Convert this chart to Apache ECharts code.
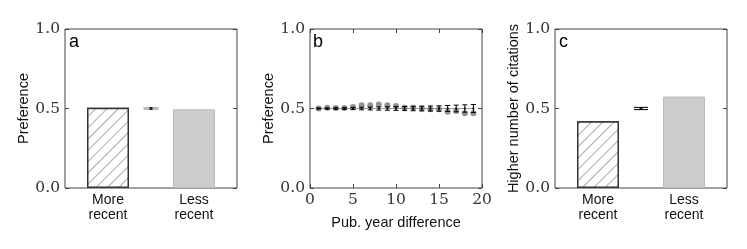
<!DOCTYPE html>
<html><head><meta charset="utf-8">
<script src="https://cdn.jsdelivr.net/npm/echarts@6/dist/echarts.min.js"></script>
<style>html,body{margin:0;padding:0;background:#fff}#c{width:747px;height:249px}</style>
</head><body><div id="c"></div>
<script>
// ---- data ----
const categories = ['More\nrecent', 'Less\nrecent'];
const prefA = [0.505, 0.495];           // panel a bar values
const nullA = [0.5, 0.49, 0.51];        // panel a null model: mean, low, high
const yearDiff = [1,2,3,4,5,6,7,8,9,10,11,12,13,14,15,16,17,18,19];
const prefB = [0.50,0.505,0.503,0.503,0.51,0.52,0.52,0.525,0.52,0.515,0.505,0.505,0.50,0.495,0.495,0.48,0.485,0.47,0.47];
const nullErrB = [0.003,0.004,0.005,0.005,0.007,0.008,0.009,0.010,0.011,0.012,0.013,0.014,0.015,0.016,0.017,0.019,0.021,0.023,0.025];
const nullLineB = [[1,0.5],[19,0.5]];
const citeC = [0.42, 0.575];            // panel c bar values
const nullC = [0.5, 0.493, 0.507];

const chart = echarts.init(document.getElementById('c'));
const serif = 'DejaVu Serif';
const sans = 'Liberation Sans';
const lefts = [65, 310, 555];
const grids = lefts.map(l => ({left: l, top: 29, width: 172, height: 159, show: true, borderColor: '#444', borderWidth: 1, backgroundColor: 'transparent'}));

function yAx(i, title, right) {
  return {
    type: 'value', gridIndex: i, min: 0, max: 1, interval: 0.5,
    position: right ? 'right' : 'left',
    name: right ? '' : title, nameLocation: 'middle', nameGap: 31,
    nameTextStyle: {fontFamily: sans, fontSize: 14.5, color: '#111'},
    axisLine: {show: false, onZero: false}, splitLine: {show: false},
    axisTick: {show: true, inside: true, length: 4, lineStyle: {color: '#444'}},
    axisLabel: {show: !right, fontFamily: serif, fontSize: 15.5, color: '#333', margin: 5, formatter: v => v.toFixed(1)}
  };
}
function catX(i) {
  return {
    type: 'value', gridIndex: i, min: -0.5, max: 1.5, interval: 0.5,
    axisLine: {show: false, onZero: false}, splitLine: {show: false},
    axisTick: {show: true, inside: true, length: 3, customValues: [0, 1], lineStyle: {color: '#444'}},
    axisLabel: {show: true, customValues: [0, 1], fontFamily: sans, fontSize: 14, color: '#111', lineHeight: 15, margin: 5,
      formatter: v => categories[Math.round(v)]}
  };
}
const hatch = {color: '#fff', borderColor: '#333', borderWidth: 1.5,
  decal: {symbol: 'rect', symbolSize: 1, dashArrayX: [[1, 0]], dashArrayY: [1, 7], rotation: -Math.PI / 4, color: '#aaa', backgroundColor: '#fff'}};
const solid = {color: '#cccccc', borderColor: '#bbb', borderWidth: 1};

function barData(vals) {
  return vals.map((v, k) => ({value: [k, v], itemStyle: k === 0 ? hatch : solid}));
}
function errRender(capW, color) {
  return function (params, api) {
    const x = api.value(0), lo = api.value(1), hi = api.value(2);
    const a = api.coord([x, lo]), b = api.coord([x, hi]);
    const st = {stroke: color, lineWidth: 1};
    return {type: 'group', children: [
      {type: 'line', shape: {x1: a[0], y1: a[1], x2: b[0], y2: b[1]}, style: st},
      {type: 'line', shape: {x1: a[0] - capW / 2, y1: a[1], x2: a[0] + capW / 2, y2: a[1]}, style: st},
      {type: 'line', shape: {x1: b[0] - capW / 2, y1: b[1], x2: b[0] + capW / 2, y2: b[1]}, style: st}
    ]};
  };
}
function rectRender(w, color) {
  return function (params, api) {
    const x = api.value(0), lo = api.value(1), hi = api.value(2);
    const a = api.coord([x, lo]), b = api.coord([x, hi]);
    return {type: 'rect', shape: {x: a[0] - w / 2, y: b[1], width: w, height: a[1] - b[1]}, style: {fill: color}};
  };
}

const option = {
  animation: false,
  grid: grids,
  xAxis: [
    catX(0),
    {type: 'value', gridIndex: 1, min: 0, max: 20, interval: 5,
      name: 'Pub. year difference', nameLocation: 'middle', nameGap: 27,
      nameTextStyle: {fontFamily: sans, fontSize: 14.5, color: '#111'},
      axisLine: {show: false, onZero: false}, splitLine: {show: false},
      axisTick: {show: true, inside: true, length: 4, lineStyle: {color: '#444'}},
      axisLabel: {fontFamily: serif, fontSize: 15.5, color: '#333', margin: 4}},
    catX(2),
    {type: 'value', gridIndex: 1, min: 0, max: 20, interval: 5, position: 'top',
      axisLine: {show: false, onZero: false}, splitLine: {show: false}, axisLabel: {show: false},
      axisTick: {show: true, inside: true, length: 4, lineStyle: {color: '#444'}}}
  ],
  yAxis: [
    yAx(0, 'Preference', false), yAx(1, 'Preference', false), yAx(2, 'Higher number of citations', false),
    yAx(0, '', true), yAx(1, '', true), yAx(2, '', true)
  ],
  graphic: [
    {type: 'text', left: 69, top: 33, style: {text: 'a', fontFamily: sans, fontSize: 18, fill: '#000'}},
    {type: 'text', left: 313, top: 33, style: {text: 'b', fontFamily: sans, fontSize: 18, fill: '#000'}},
    {type: 'text', left: 559, top: 33, style: {text: 'c', fontFamily: sans, fontSize: 18, fill: '#000'}}
  ],
  series: [
    {type: 'bar', xAxisIndex: 0, yAxisIndex: 0, barWidth: 42, data: barData(prefA)},
    {type: 'custom', xAxisIndex: 0, yAxisIndex: 0, renderItem: rectRender(15, '#bbb'), data: [[0.5, nullA[1], nullA[2]]], z: 5},
    {type: 'scatter', xAxisIndex: 0, yAxisIndex: 0, symbol: 'rect', symbolSize: 3, itemStyle: {color: '#000'}, data: [[0.5, nullA[0]]], z: 6},

    {type: 'line', xAxisIndex: 1, yAxisIndex: 1, data: nullLineB, symbol: 'none', lineStyle: {color: '#999', width: 1}, z: 1},
    {type: 'scatter', xAxisIndex: 1, yAxisIndex: 1, symbolSize: 6, itemStyle: {color: '#777'}, data: yearDiff.map((x, k) => [x, prefB[k]]), z: 2},
    {type: 'custom', xAxisIndex: 1, yAxisIndex: 1, renderItem: errRender(5, '#000'), data: yearDiff.map((x, k) => [x, 0.5 - nullErrB[k], 0.5 + nullErrB[k]]), z: 3},
    {type: 'scatter', xAxisIndex: 1, yAxisIndex: 1, symbol: 'rect', symbolSize: 2, itemStyle: {color: '#000'}, data: yearDiff.map(x => [x, 0.5]), z: 4},

    {type: 'bar', xAxisIndex: 2, yAxisIndex: 2, barWidth: 42, data: barData(citeC)},
    {type: 'custom', xAxisIndex: 2, yAxisIndex: 2, renderItem: errRender(14, '#000'), data: [[0.5, nullC[1], nullC[2]]], z: 5},
    {type: 'scatter', xAxisIndex: 2, yAxisIndex: 2, symbol: 'rect', symbolSize: 3, itemStyle: {color: '#000'}, data: [[0.5, nullC[0]]], z: 6}
  ]
};
chart.setOption(option);
</script></body></html>
